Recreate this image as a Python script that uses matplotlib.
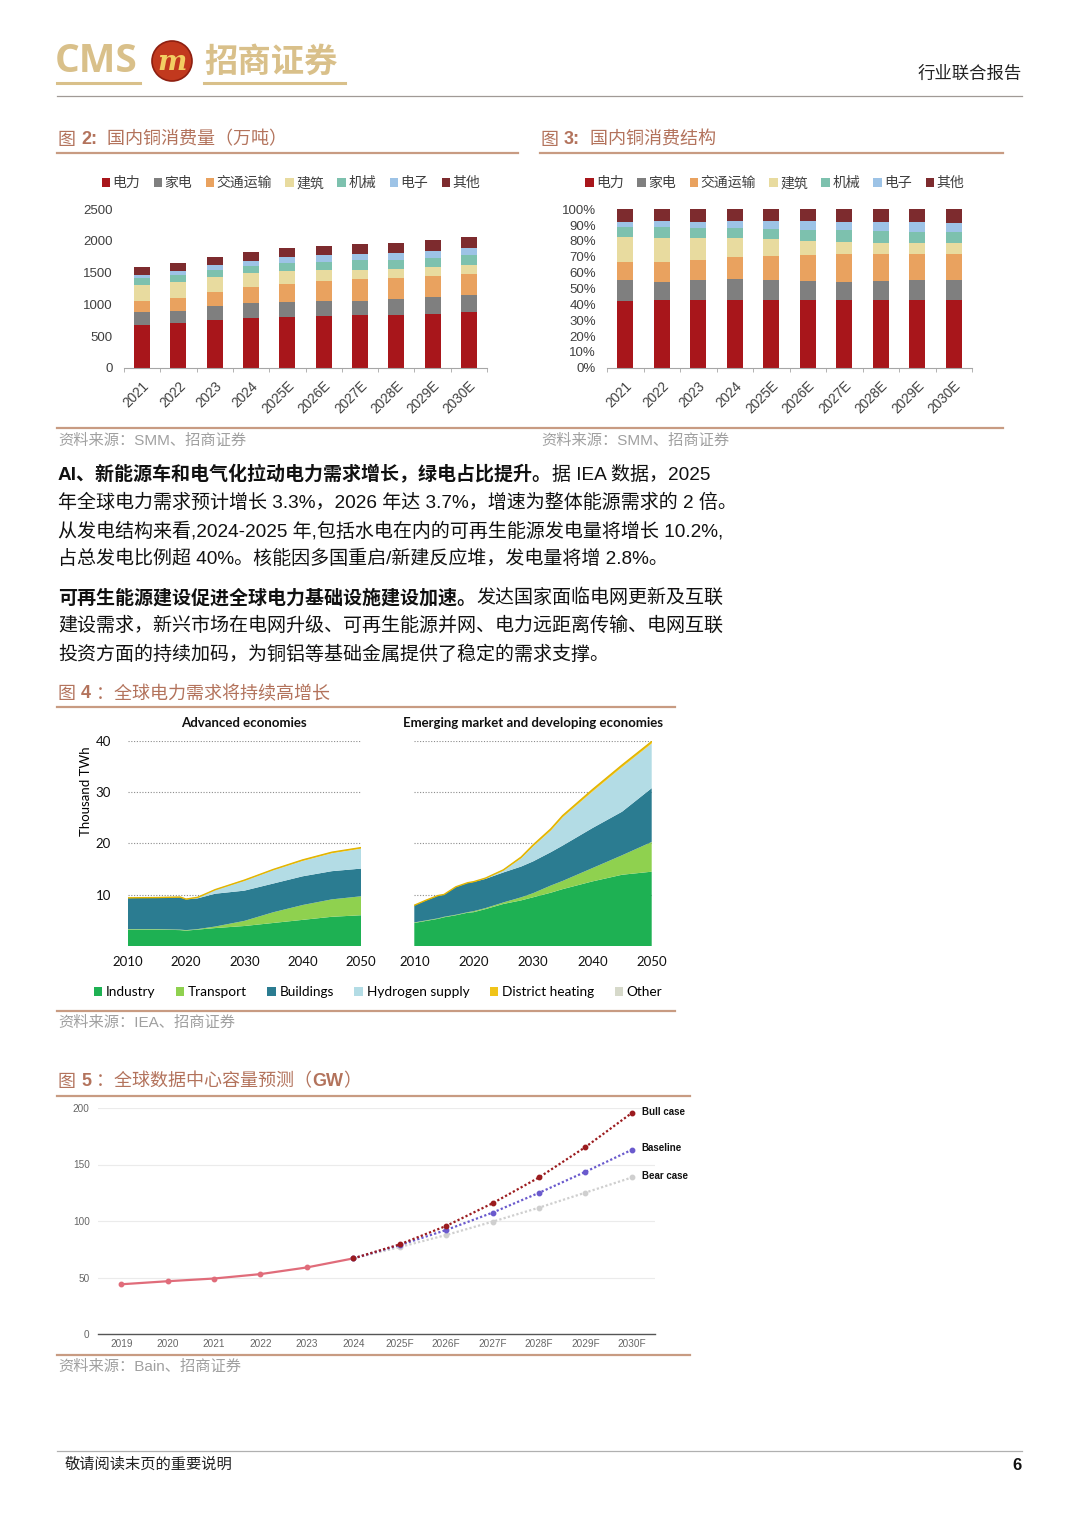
import matplotlib
matplotlib.use("Agg")
import matplotlib.pyplot as plt
from matplotlib.lines import Line2D
from matplotlib.patches import Ellipse, Patch
import numpy as np

W, H = 1080, 1527
CJK = ["Liberation Sans", "Noto Sans CJK SC"]
plt.rcParams["font.family"] = CJK

# 图2/图3 国内铜消费（万吨）
cu_years = ["2021", "2022", "2023", "2024", "2025E", "2026E", "2027E", "2028E", "2029E", "2030E"]
cu_names = ["电力", "家电", "交通运输", "建筑", "机械", "电子", "其他"]
cu_power = [667, 700, 745, 784, 801, 816, 827, 839, 855, 885]
cu_appliance = [211, 194, 226, 239, 243, 235, 230, 241, 259, 258]
cu_transport = [176, 208, 221, 250, 284, 311, 337, 342, 334, 342]
cu_building = [250, 250, 240, 219, 198, 175, 152, 136, 139, 142]
cu_machinery = [106, 107, 110, 115, 121, 133, 146, 146, 141, 144]
cu_electronics = [51, 69, 74, 84, 98, 109, 103, 109, 118, 118]
cu_other = [124, 118, 137, 135, 139, 142, 152, 162, 165, 173]
cu_colors = ["#A8161B", "#7F7F7F", "#E9A25F", "#E8DB9F", "#7DC1AE", "#9DC3E6", "#7D2B2E"]

# 图4 IEA 电力需求 (thousand TWh)
adv_years = [2010, 2015, 2019, 2020, 2022, 2025, 2030, 2035, 2040, 2045, 2050]
adv_industry = [3.2, 3.2, 3.1, 3.0, 3.2, 3.5, 3.9, 4.5, 5.1, 5.7, 6.0]
adv_transport = [0.1, 0.1, 0.1, 0.1, 0.1, 0.3, 1.0, 2.1, 2.9, 3.4, 3.7]
adv_buildings = [6.05, 6.1, 6.3, 6.0, 6.0, 6.4, 5.9, 5.6, 5.6, 5.5, 5.4]
adv_hydrogen = [0, 0, 0, 0, 0.1, 0.7, 1.9, 2.6, 3.0, 3.5, 3.9]
adv_district = [0.05, 0.05, 0.05, 0.05, 0.1, 0.1, 0.15, 0.15, 0.2, 0.2, 0.2]
adv_other = [0.1, 0.1, 0.1, 0.1, 0.1, 0.05, 0.05, 0.05, 0.05, 0.05, 0.05]

emde_years = [2010, 2012, 2014, 2015, 2017, 2019, 2020, 2022, 2025, 2028, 2030, 2033, 2035, 2040, 2045, 2050]
emde_industry = [4.5, 4.9, 5.3, 5.6, 6.0, 6.5, 6.6, 7.2, 8.2, 8.9, 9.5, 10.4, 11.1, 12.6, 13.9, 14.5]
emde_transport = [0.1, 0.1, 0.1, 0.1, 0.1, 0.1, 0.2, 0.2, 0.3, 0.6, 0.8, 1.4, 1.6, 2.6, 3.8, 5.8]
emde_buildings = [3.3, 3.9, 4.4, 4.3, 5.4, 5.7, 5.7, 5.7, 5.85, 6.0, 6.2, 6.5, 6.9, 7.8, 8.5, 10.5]
emde_hydrogen = [0, 0, 0, 0, 0, 0, 0, 0.05, 0.35, 1.6, 2.9, 4.2, 5.5, 7.1, 8.7, 8.7]
emde_district = [0.05, 0.05, 0.05, 0.05, 0.05, 0.05, 0.05, 0.1, 0.15, 0.25, 0.3, 0.35, 0.35, 0.4, 0.4, 0.4]
emde_other = [0.05] * 16
iea_names = ["Industry", "Transport", "Buildings", "Hydrogen supply", "District heating", "Other"]
iea_colors = ["#1EB153", "#8FD14F", "#2B7C91", "#B3DCE5", "#F0C419", "#D6D9CA"]

# 图5 数据中心容量 (GW)
dc_labels = ["2019", "2020", "2021", "2022", "2023", "2024",
             "2025F", "2026F", "2027F", "2028F", "2029F", "2030F"]
dc_hist = [44.0, 46.7, 49.1, 53.0, 58.9, 66.9]
dc_bull = [66.9, 79.3, 95.6, 115.7, 138.5, 165.4, 195.6]
dc_base = [66.9, 78.7, 92.0, 107.4, 124.9, 143.5, 163.0]
dc_bear = [66.9, 76.9, 87.6, 99.4, 111.8, 125.1, 138.5]

TITLE_C = "#B3735C"
RULE_C = "#C89B82"
SRC_C = "#A0A0A0"

fig = plt.figure(figsize=(W / 100, H / 100), dpi=100)
renderer = fig.canvas.get_renderer()


def rect(x0, y0, x1, y1):
    return [x0 / W, 1 - y1 / H, (x1 - x0) / W, (y1 - y0) / H]


def ftext(x, y, s, **kw):
    return fig.text(x / W, 1 - y / H, s, **kw)


def hline(x0, x1, y, color, lw):
    fig.add_artist(Line2D([x0 / W, x1 / W], [1 - y / H, 1 - y / H], color=color, lw=lw))


def runs(x, y, parts, size, color):
    for s, w in parts:
        t = ftext(x, y, s, fontsize=size, fontweight=w, color=color, va="center", ha="left")
        x += t.get_window_extent(renderer).width


# ---- header
ftext(55, 62, "CMS", fontsize=28, fontweight="bold", color="#D9C08A", va="center",
      family=["Open Sans", "DejaVu Sans"])
fig.add_artist(Ellipse((172 / W, 1 - 61 / H), 40 / W, 40 / H, transform=fig.transFigure,
                       facecolor="#C2391E", edgecolor="#8E1F10", lw=1.2))
ftext(172, 62, "m", fontsize=20, fontweight="bold", style="italic", color="#F2CF62",
      ha="center", va="center", family=["DejaVu Serif"])
ftext(204, 62, "招商证券", fontsize=24, fontweight="bold", color="#D9C08A", va="center",
      family=["Noto Sans CJK SC"])
hline(57, 140, 83, "#D9C08A", 2.2)
hline(204, 345, 83, "#D9C08A", 2.2)
ftext(1022, 74, "行业联合报告", fontsize=12.5, color="#222222", ha="right", va="center")
hline(57, 1022, 96, "#A09A96", 0.9)

# ---- 图2 & 图3
runs(58, 140, [("图 ", "normal"), ("2:", "bold"), ("  国内铜消费量（万吨）", "normal")], 13, TITLE_C)
runs(541, 140, [("图 ", "normal"), ("3:", "bold"), ("  国内铜消费结构", "normal")], 13, TITLE_C)
hline(57, 518, 153, RULE_C, 1.6)
hline(540, 1003, 153, RULE_C, 1.6)

cu_series = [cu_power, cu_appliance, cu_transport, cu_building, cu_machinery, cu_electronics, cu_other]
cu_arr = np.array(cu_series, dtype=float)
cu_share = cu_arr / cu_arr.sum(axis=0) * 100

ax2 = fig.add_axes(rect(124, 209.3, 487, 367.7))
ax3 = fig.add_axes(rect(607, 209.3, 972, 367.7))
x = np.arange(len(cu_years))
for ax, data, ymax, step, fmt in [(ax2, cu_arr, 2500, 500, "{:.0f}"), (ax3, cu_share, 100, 10, "{:.0f}%")]:
    bottom = np.zeros(len(x))
    for name, vals, col in zip(cu_names, data, cu_colors):
        ax.bar(x, vals, 0.44, bottom=bottom, color=col, label=name)
        bottom += vals
    ax.set_xlim(-0.5, len(x) - 0.5)
    ax.set_ylim(0, ymax)
    ticks = np.arange(0, ymax + 1, step)
    ax.set_yticks(ticks)
    ax.set_yticklabels([fmt.format(t) for t in ticks])
    ax.set_xticks(x)
    ax.set_xticklabels(cu_years, rotation=45, ha="right", rotation_mode="anchor")
    ax.set_xticks(np.arange(-0.5, len(x), 1), minor=True)
    ax.tick_params(axis="x", which="major", length=0, pad=8, labelsize=9.8, colors="#404040")
    ax.tick_params(axis="x", which="minor", length=3, color="#A6A6A6")
    ax.tick_params(axis="y", length=0, pad=8, labelsize=9.5, colors="#404040")
    for s in ["top", "right", "left"]:
        ax.spines[s].set_visible(False)
    ax.spines["bottom"].set_color("#A6A6A6")
    ax.legend(ncol=7, loc="center", bbox_to_anchor=(0.46, 1.165), frameon=False,
              fontsize=10, handlelength=0.6, handleheight=0.6, handletextpad=0.2,
              columnspacing=0.95, labelcolor="#404040", borderaxespad=0)

hline(57, 1003, 428, RULE_C, 1.6)
ftext(58, 441, "资料来源：SMM、招商证券", fontsize=11, color=SRC_C, va="center")
ftext(541, 441, "资料来源：SMM、招商证券", fontsize=11, color=SRC_C, va="center")

# ---- 正文
para = [
    (475, [("AI、新能源车和电气化拉动电力需求增长，绿电占比提升。", "bold"), ("据 IEA 数据，2025", "normal")]),
    (503, [("年全球电力需求预计增长 3.3%，2026 年达 3.7%，增速为整体能源需求的 2 倍。", "normal")]),
    (531, [("从发电结构来看,2024-2025 年,包括水电在内的可再生能源发电量将增长 10.2%,", "normal")]),
    (559, [("占总发电比例超 40%。核能因多国重启/新建反应堆，发电量将增 2.8%。", "normal")]),
    (598, [("可再生能源建设促进全球电力基础设施建设加速。", "bold"), ("发达国家面临电网更新及互联", "normal")]),
    (626, [("建设需求，新兴市场在电网升级、可再生能源并网、电力远距离传输、电网互联", "normal")]),
    (655, [("投资方面的持续加码，为铜铝等基础金属提供了稳定的需求支撑。", "normal")]),
]
for yy, parts in para:
    runs(58, yy, parts, 13.7, "#111111")

# ---- 图4
runs(58, 694, [("图 ", "normal"), ("4", "bold"), (" ：全球电力需求将持续高增长", "normal")], 13, TITLE_C)
hline(57, 675, 707, RULE_C, 1.6)

LAT = ["Lato", "DejaVu Sans"]
axl = fig.add_axes(rect(127.7, 741, 361, 946))
axr = fig.add_axes(rect(414.3, 741, 651.7, 946))
panels = [
    (axl, "Advanced economies", adv_years,
     [adv_industry, adv_transport, adv_buildings, adv_hydrogen, adv_district, adv_other]),
    (axr, "Emerging market and developing economies", emde_years,
     [emde_industry, emde_transport, emde_buildings, emde_hydrogen, emde_district, emde_other]),
]
for ax, title, yrs, layers in panels:
    ax.stackplot(yrs, *layers, colors=iea_colors, lw=0)
    tops = np.array(layers[:5]).sum(axis=0)
    ax.plot(yrs, tops, color="#E2B400", lw=1.0)
    ax.set_xlim(2010, 2050)
    ax.set_ylim(0, 40)
    ax.set_yticks([10, 20, 30, 40])
    ax.set_xticks([2010, 2020, 2030, 2040, 2050])
    ax.grid(axis="y", ls=(0, (1, 1.5)), color="#8C8C8C", lw=0.8)
    ax.set_axisbelow(True)
    for s in ax.spines.values():
        s.set_visible(False)
    ax.tick_params(length=0, labelsize=9.5, labelcolor="#111111", pad=7)
    for lab in ax.get_xticklabels() + ax.get_yticklabels():
        lab.set_family(LAT)
    ax.set_title(title, fontsize=9.5, fontweight="bold", family=LAT, pad=10, color="#111111")
axr.set_yticklabels([])
axl.tick_params(axis="y", pad=12)
ftext(86, 791, "Thousand TWh", fontsize=9.5, rotation=90, ha="center", va="center", family=LAT)

handles = [Patch(facecolor=c, label=n) for n, c in zip(iea_names, iea_colors)]
fig.legend(handles=handles, loc="center", bbox_to_anchor=(378 / W, 1 - 992 / H), ncol=6,
           frameon=False, prop={"family": LAT, "size": 9.8}, handlelength=0.6, handleheight=0.6,
           handletextpad=0.3, columnspacing=1.5, borderaxespad=0)

hline(57, 675, 1011, RULE_C, 1.6)
ftext(58, 1023, "资料来源：IEA、招商证券", fontsize=11, color=SRC_C, va="center")

# ---- 图5
runs(58, 1082, [("图 ", "normal"), ("5", "bold"), (" ：全球数据中心容量预测（", "normal"),
                ("GW", "bold"), ("）", "normal")], 13, TITLE_C)
hline(57, 690, 1096, RULE_C, 1.6)

ax5 = fig.add_axes(rect(98, 1108, 655, 1334))
xh = np.arange(len(dc_hist))
xf = np.arange(len(dc_hist) - 1, len(dc_labels))
ax5.plot(xh, dc_hist, color="#E06C7A", lw=1.6, marker="o", ms=3.2, zorder=3)
for vals, col, lab in [(dc_bear, "#CFCFCF", "Bear case"), (dc_base, "#6A5ACD", "Baseline"),
                       (dc_bull, "#9B1B1E", "Bull case")]:
    ax5.plot(xf, vals, color=col, lw=1.6, ls=(0, (1, 1)), marker="o", ms=3.2, zorder=4)
    ax5.annotate(lab, (xf[-1], vals[-1]), xytext=(7, 1), textcoords="offset points",
                 fontsize=7, fontweight="bold", va="center", color="#111111", annotation_clip=False)
ax5.set_xlim(-0.5, len(dc_labels) - 0.5)
ax5.set_ylim(0, 200)
ax5.set_yticks([0, 50, 100, 150, 200])
ax5.set_xticks(np.arange(len(dc_labels)))
ax5.set_xticklabels(dc_labels)
ax5.grid(axis="y", color="#EBEBEB", lw=0.8)
ax5.set_axisbelow(True)
for s in ["top", "right", "left"]:
    ax5.spines[s].set_visible(False)
ax5.spines["bottom"].set_color("#555555")
ax5.spines["bottom"].set_linewidth(1.0)
ax5.tick_params(length=0, labelsize=7.2, labelcolor="#666666")
ax5.tick_params(axis="y", pad=6)

hline(57, 690, 1355, RULE_C, 1.6)
ftext(58, 1367, "资料来源：Bain、招商证券", fontsize=11, color=SRC_C, va="center")

# ---- footer
hline(57, 1022, 1451, "#B0B0B0", 0.9)
ftext(65, 1465, "敬请阅读末页的重要说明", fontsize=11, color="#222222", va="center")
ftext(1022, 1465, "6", fontsize=12, fontweight="bold", color="#111111", ha="right", va="center")

fig.savefig("out.png", dpi=100)
